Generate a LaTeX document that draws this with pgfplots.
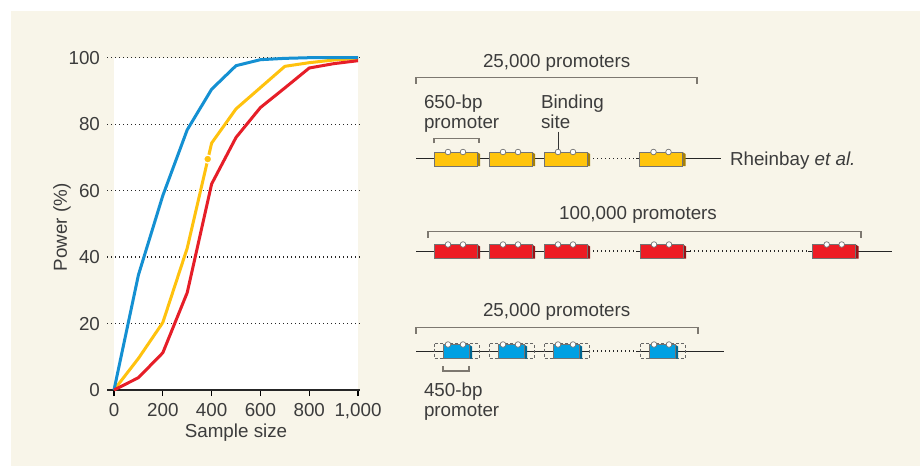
\documentclass[border=0pt]{standalone}
\usepackage{fontspec}
\setmainfont{Liberation Sans}
\usepackage{pgfplots}
\pgfplotsset{compat=1.18}

\definecolor{cream}{RGB}{248,245,233}
\definecolor{txt}{RGB}{60,60,60}
\definecolor{lblue}{RGB}{20,144,210}
\definecolor{lyellow}{RGB}{255,194,14}
\definecolor{lred}{RGB}{230,30,40}
\definecolor{byellow}{RGB}{255,196,12}
\definecolor{bred}{RGB}{237,28,36}
\definecolor{bblue}{RGB}{0,160,227}
\definecolor{brk}{RGB}{125,120,112}

\tikzset{lbl/.style={inner sep=0pt, outer sep=0pt}}

% promoter box: left x, line y, colour, width
\newcommand{\pbox}[4]{%
  \fill[#3] (#1,#2-6.5) rectangle (#1+#4,#2+7.5);
  \fill[#3!65!black] (#1+#4,#2-6.5) -- (#1+#4+3,#2-4.5) -- (#1+#4+3,#2+7.5) -- (#1+#4,#2+7.5) -- cycle;
  \draw[black!55, line width=0.3pt] (#1,#2-6.5) rectangle (#1+#4,#2+7.5);
}
\newcommand{\sites}[2]{%
  \filldraw[fill=white, draw=black!55, line width=0.35pt] (#1+14,#2-6.5) circle[radius=1.4pt];
  \filldraw[fill=white, draw=black!55, line width=0.35pt] (#1+29,#2-6.5) circle[radius=1.4pt];
}
\newcommand{\oldbox}[2]{%
  \draw[black!60, line width=0.4pt, dash pattern=on 1.5pt off 1pt] (#1,#2-7.5) rectangle (#1+45,#2+7);
}
\newcommand{\bracket}[4]{% x1, x2, y, tick direction
  \draw[brk, line width=0.6pt] (#1,#3+#4) -- (#1,#3) -- (#2,#3) -- (#2,#3+#4);
}

\begin{document}
\begin{tikzpicture}[font=\fontsize{9.4}{10}\selectfont, text=txt]

% canvas in pixel units: background and promoter schematic
\begin{axis}[
  at={(0,0)}, anchor=south west,
  scale only axis, width=460pt, height=233pt,
  xmin=0, xmax=920, ymin=0, ymax=466, y dir=reverse,
  axis lines=none, clip=false,
]
  \fill[white] (0,0) rectangle (920,466);
  \fill[cream] (11,11) rectangle (920,466);
  \fill[white] (114,57.7) rectangle (358,390);

  % row 1: 650-bp promoters
  \bracket{416}{697}{77.7}{6}
  \node[lbl, anchor=base] at (556.7,67.7) {25,000 promoters};
  \node[lbl, anchor=base west] at (424,108.3) {650-bp};
  \node[lbl, anchor=base west] at (424,128.3) {promoter};
  \node[lbl, anchor=base west] at (541,108.3) {Binding};
  \node[lbl, anchor=base west] at (541,128.3) {site};
  \bracket{434}{479}{138.3}{5}
  \draw[black!80, line width=0.5pt] (558.3,131.5) -- (558.3,150);
  \draw[black!85, line width=0.5pt] (416,158.5) -- (589,158.5);
  \draw[black!85, line width=0.5pt] (636,158.5) -- (721,158.5);
  \draw[black!85, line width=0.6pt, dash pattern=on 0.6pt off 1.4pt] (589,158.5) -- (636,158.5);
  \pbox{434}{158.5}{byellow}{43} \sites{434}{158.5}
  \pbox{489}{158.5}{byellow}{43} \sites{489}{158.5}
  \pbox{544}{158.5}{byellow}{43} \sites{544}{158.5}
  \pbox{639.5}{158.5}{byellow}{43} \sites{639.5}{158.5}
  \node[lbl, anchor=base west] at (730,165) {Rheinbay \textit{et al.}};

  % row 2: 100,000 promoters
  \bracket{428}{861}{231.7}{6}
  \node[lbl, anchor=base] at (638,219.3) {100,000 promoters};
  \draw[black!85, line width=0.5pt] (416,251) -- (589,251);
  \draw[black!85, line width=0.5pt] (636,251) -- (690,251);
  \draw[black!85, line width=0.5pt] (808,251) -- (892,251);
  \draw[black!85, line width=0.6pt, dash pattern=on 0.6pt off 1.4pt] (589,251) -- (636,251);
  \draw[black!85, line width=0.6pt, dash pattern=on 0.6pt off 1.4pt] (690,251) -- (808,251);
  \pbox{434}{251}{bred}{43} \sites{434}{251}
  \pbox{489}{251}{bred}{43} \sites{489}{251}
  \pbox{544}{251}{bred}{43} \sites{544}{251}
  \pbox{640}{251}{bred}{43} \sites{640}{251}
  \pbox{812.7}{251}{bred}{43} \sites{812.7}{251}

  % row 3: 450-bp promoters
  \bracket{416}{698}{327.7}{6}
  \node[lbl, anchor=base] at (556.7,316) {25,000 promoters};
  \draw[black!85, line width=0.5pt] (416,351) -- (589,351);
  \draw[black!85, line width=0.5pt] (636,351) -- (724,351);
  \draw[black!85, line width=0.6pt, dash pattern=on 0.6pt off 1.4pt] (589,351) -- (636,351);
  \oldbox{434}{351} \pbox{443}{351}{bblue}{26} \sites{434}{351}
  \oldbox{489}{351} \pbox{498}{351}{bblue}{26} \sites{489}{351}
  \oldbox{544}{351} \pbox{553}{351}{bblue}{26} \sites{544}{351}
  \oldbox{640}{351} \pbox{649}{351}{bblue}{26} \sites{640}{351}
  \bracket{443}{469}{371}{-5}
  \node[lbl, anchor=base west] at (424,396) {450-bp};
  \node[lbl, anchor=base west] at (424,416) {promoter};
\end{axis}

% power curves
\begin{axis}[
  at={(53.5pt,38pt)}, anchor=south west,
  scale only axis, width=126.5pt, height=166.15pt,
  xmin=-28.7, xmax=1008, ymin=0, ymax=100,
  clip=false,
  axis x line*=bottom, axis y line*=left,
  x axis line style={line width=1.3pt, black!85},
  y axis line style={draw=none},
  xtick={0,200,400,600,800,1000},
  xticklabels={0,200,400,600,800,{1,000}},
  ytick={0,20,40,60,80,100},
  yticklabels={0,20,40,60,80,100},
  tick align=outside,
  major tick length=3pt,
  xtick style={black, line width=0.6pt},
  ytick style={draw=none},
  yticklabel style={xshift=3pt},
  ymajorgrids,
  grid style={black!85, line width=0.6pt, dash pattern=on 0.6pt off 1.4pt},
  tick label style={font=\fontsize{9.4}{10}\selectfont, text=txt},
  label style={font=\fontsize{9.4}{10}\selectfont, text=txt},
  xlabel={Sample size},
  ylabel={Power (\%)},
  every axis x label/.style={at={(axis description cs:0.51,-0.127)}, anchor=center},
  every axis y label/.style={at={(axis description cs:-0.178,0.49)}, rotate=90, anchor=center},
  line join=round,
]
  \addplot[lyellow, line width=1.5pt] coordinates {
    (0,0) (100,9.5) (200,20.3) (300,42.7) (400,74.3) (500,84.6)
    (600,91) (700,97.4) (800,98.5) (900,99.3) (1000,99.8)
  };
  \addplot[lblue, line width=1.5pt] coordinates {
    (0,0) (100,34.6) (200,58.5) (300,78.3) (400,90.5) (500,97.6)
    (600,99.4) (700,99.8) (800,100) (900,100) (1000,100)
  };
  \addplot[lred, line width=1.5pt] coordinates {
    (0,0) (100,3.7) (200,11.2) (300,29.3) (400,62) (500,76)
    (600,85) (700,90.9) (800,96.9) (900,98.2) (1000,99.1)
  };
  \addplot[only marks, mark=*, mark size=2pt, mark options={fill=lyellow, draw=white, line width=0.6pt}]
    coordinates {(384,69.5)};
\end{axis}
\end{tikzpicture}
\end{document}
